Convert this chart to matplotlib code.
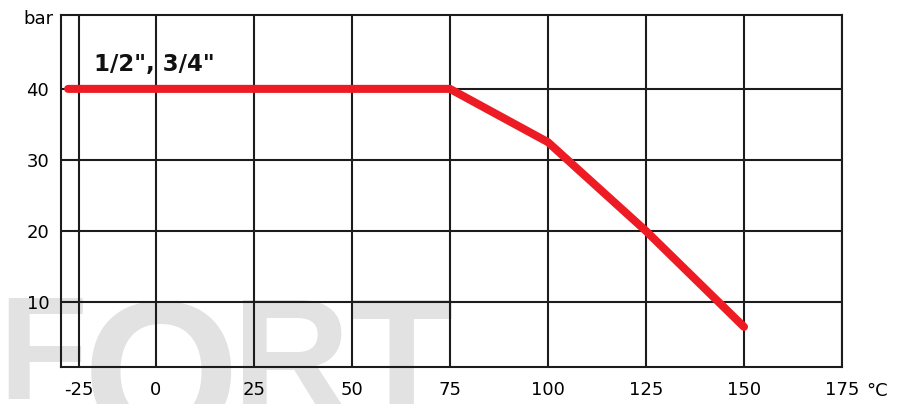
import matplotlib
matplotlib.use("Agg")
import matplotlib.pyplot as plt
import numpy as np

# data
temps    = [-28.5, 75, 100, 125, 150]
pressure = [40, 40, 32.5, 20, 6.5]
xticks   = [-25, 0, 25, 50, 75, 100, 125, 150, 175]
yticks   = [10, 20, 30, 40]
label    = '1/2", 3/4"'

W, H = 913, 404
red   = '#ed1c24'
grid  = '#1c1c1c'
wm    = '#e2e2e2'

# the -25..0 section of the axis is drawn shorter than the others
k = 77.0 / 98.0
def fwd(x):
    x = np.asarray(x, dtype=float)
    return np.where(x < 0, x * k, x)
def inv(p):
    p = np.asarray(p, dtype=float)
    return np.where(p < 0, p / k, p)

plt.rcParams['font.family'] = ['DejaVu Sans']

fig = plt.figure(figsize=(W / 100, H / 100), dpi=100)
ax = fig.add_axes([61 / W, 1 - 367 / H, (842 - 61) / W, (367 - 15) / H])
ax.set_facecolor('none')

# watermark behind everything: letter, centre x, baseline y (px from top), size
for ch, cx, by, fs in zip("FORT", [43, 161, 291, 401], [399, 441, 412, 416],
                          [105, 145, 118, 122]):
    fig.text(cx / W, 1 - by / H, ch, ha='center', va='baseline',
             fontsize=fs, fontweight='bold', family='Liberation Sans',
             color=wm, zorder=-5)

ax.set_xscale('function', functions=(fwd, inv))
ax.set_xlim(-30.8, 175)
ax.set_ylim(0.85, 50.4)
ax.set_xticks(xticks)
ax.set_yticks(yticks)
ax.set_xticklabels([str(t) for t in xticks])
ax.set_yticklabels([str(t) for t in yticks])

ax.grid(True, color=grid, lw=1.5)
ax.set_axisbelow(True)
for s in ax.spines.values():
    s.set_linewidth(1.5)
    s.set_color(grid)
ax.tick_params(axis='x', length=0, pad=10, labelsize=13)
ax.tick_params(axis='y', length=0, pad=8.5, labelsize=13)

ax.plot(temps, pressure, color=red, lw=5.8, solid_capstyle='round',
        solid_joinstyle='miter', zorder=3)

ax.text(-20, 42.5, label, fontsize=16.5, fontweight='bold', ha='left',
        va='baseline', color='#111111', zorder=4)

fig.text(53 / W, 1 - 19 / H, 'bar', ha='right', va='center', fontsize=13)
fig.text(866 / W, 1 - 391 / H, '°C', ha='left', va='center', fontsize=13)

fig.savefig('out.png', dpi=100)
